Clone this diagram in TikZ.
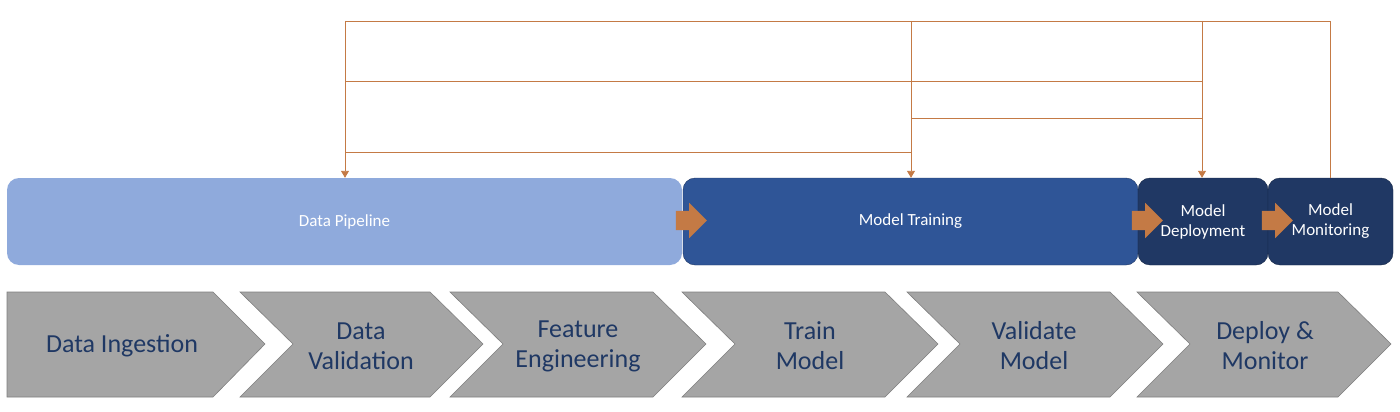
\documentclass[tikz,border=0pt]{standalone}
\usepackage{fontspec}
\setmainfont{Carlito}
\usetikzlibrary{positioning, shapes.arrows, arrows.meta}

\definecolor{pipeblue}{HTML}{8FAADC}
\definecolor{trainblue}{HTML}{2F5597}
\definecolor{navy}{HTML}{203864}
\definecolor{stepgray}{HTML}{A5A5A5}
\definecolor{edgegray}{HTML}{7F7F7F}
\definecolor{flowor}{HTML}{C47A45}
\definecolor{textnavy}{HTML}{1F3864}

\begin{document}
\begin{tikzpicture}[x=1pt, y=-1pt,
    stage/.style={rounded corners=12pt, minimum height=87pt, inner sep=0pt, text=white,
      font=\fontsize{17}{20}\selectfont, align=center},
    push/.style={single arrow, fill=flowor, minimum height=31pt, minimum width=35pt,
      inner sep=9.5pt, single arrow head extend=8pt},
    phase/.style={fill=stepgray, draw=edgegray, line width=0.6pt},
    steptext/.style={text=textnavy, font=\fontsize{26}{30}\selectfont, align=center},
    flow/.style={draw=flowor, line width=0.9pt},
    drop/.style={flow, -{Triangle[width=8pt, length=7pt]}}]
    \useasboundingbox (0,0) rectangle (1400,412);

    % stages
    \node[stage, fill=pipeblue, minimum width=675pt] (pipe) at (344.5,221.5) {Data Pipeline};
    \node[stage, fill=trainblue, draw=navy, minimum width=455pt] (train) at (910.5,221.5) {Model Training};
    \node[stage, fill=navy, draw=navy!70!black, minimum width=130pt] (deploy) at (1203,221.5) {Model\\Deployment};
    \node[stage, fill=navy, draw=navy!70!black, minimum width=125pt] (monitor) at (1330.5,221.5) {Model\\Monitoring};

    \node[push] (go1) at (686.5,220.5) {};
    \node[push] (go2) at (1142.5,220.5) {};
    \node[push] (go3) at (1272.5,220.5) {};

    % feedback lines
    \coordinate (tl) at (345,21);
    \coordinate (tm) at (911,21);
    \coordinate (td) at (1202,21);
    \coordinate (lane1) at (0,81);
    \coordinate (lane2) at (0,118);
    \coordinate (lane3) at (0,152);

    \draw[flow] (monitor.north) |- (tl);
    \draw[flow] (lane1 -| tl) -- (lane1 -| td);
    \draw[flow] (lane2 -| tm) -- (lane2 -| td);
    \draw[flow] (lane3 -| tl) -- (lane3 -| tm);
    \draw[drop] (tl) -- (tl |- pipe.north);
    \draw[drop] (tm) -- (tm |- train.north);
    \draw[drop] (td) -- (td |- deploy.north);

    % steps
    \draw[phase] (7,292) -- (213,292) -- (265,344) -- (213,397) -- (7,397) -- cycle;
    \foreach \l/\r in {240/430, 450/653, 682/885, 907/1110, 1137/1338}
        \draw[phase] (\l,292) -- (\r,292) -- (\r+53,344) -- (\r,397) -- (\l,397) -- (\l+53,344) -- cycle;

    \node[steptext] (ingest) at (122,346) {Data Ingestion};
    \node[steptext] (check) at (361,346) {Data\\Validation};
    \node[steptext] (features) at (578,346) {Feature\\Engineering};
    \node[steptext] (fit) at (810,346) {Train\\Model};
    \node[steptext] (score) at (1034,346) {Validate\\Model};
    \node[steptext] (ship) at (1265,346) {Deploy \&\\Monitor};
\end{tikzpicture}
\end{document}
